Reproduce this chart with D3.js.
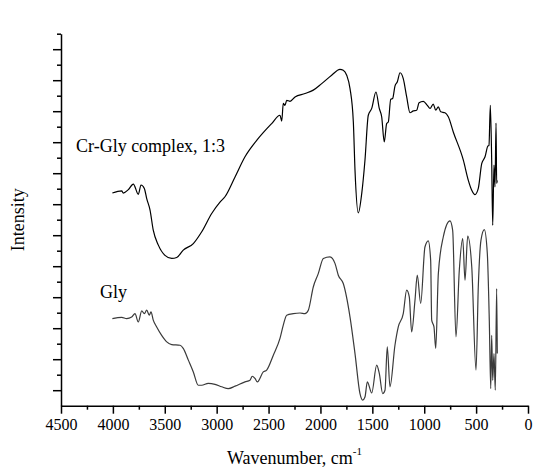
<!DOCTYPE html>
<html>
<head>
<meta charset="utf-8">
<script src="https://cdn.jsdelivr.net/npm/d3@7"></script>
<style>
	body { margin: 0; background: #fff; }
	svg { display: block; font-family: "Liberation Serif", "Times New Roman", serif; }
	.axis path, .axis line { stroke: #000; stroke-width: 1.5; }
</style>
</head>
<body>
<svg width="555" height="467"></svg>
<script>
// wavenumbers (cm-1) and intensities, arbitrary units
const crWn = [4005, 3915, 3900, 3851, 3803, 3755, 3729, 3697, 3674, 3642, 3611, 3562, 3498, 3433, 3385, 3322, 3225, 3144, 3048, 2968,
	2920, 2823, 2727, 2599, 2470, 2390, 2373, 2358, 2342, 2325, 2293, 2245, 2149, 2069, 1988, 1892, 1812, 1780, 1747, 1715,
	1683, 1667, 1635, 1602, 1571, 1539, 1506, 1465, 1433, 1410, 1385, 1362, 1346, 1323, 1304, 1282, 1259, 1233, 1202, 1169,
	1137, 1105, 1073, 1050, 1009, 970, 944, 913, 889, 864, 841, 800, 768, 720, 623, 575, 542, 511, 479, 446,
	414, 388, 376, 363, 350, 340, 328, 318, 308, 302, 296];
const crI = [6.36, 6.43, 6.36, 6.47, 6.65, 6.32, 6.62, 6.51, 6.18, 5.81, 5.16, 4.68, 4.35, 4.25, 4.28, 4.52, 4.73, 5.11, 5.70, 6.07,
	6.24, 6.88, 7.53, 8.12, 8.60, 8.87, 8.68, 9.25, 9.19, 9.35, 9.32, 9.46, 9.57, 9.68, 9.89, 10.16, 10.35, 10.32, 10.16, 9.73,
	8.65, 7.10, 5.72, 6.35, 7.42, 8.87, 9.09, 9.62, 9.09, 8.82, 8.01, 8.60, 8.65, 9.38, 9.41, 9.81, 9.95, 10.24, 10.05, 9.46,
	8.95, 9.01, 9.03, 9.27, 9.32, 9.19, 9.09, 9.23, 9.03, 9.14, 8.98, 8.95, 8.82, 8.33, 7.42, 6.77, 6.45, 6.31, 6.51, 7.31,
	7.53, 7.87, 7.90, 9.19, 7.42, 5.32, 7.26, 6.56, 8.62, 6.67, 6.77];

const glyWn = [4005, 3915, 3867, 3819, 3787, 3755, 3722, 3697, 3674, 3649, 3633, 3611, 3578, 3530, 3481, 3433, 3353, 3322, 3273, 3225,
	3177, 3144, 3081, 3016, 2951, 2888, 2823, 2727, 2679, 2657, 2631, 2608, 2551, 2518, 2454, 2390, 2358, 2325, 2262, 2197,
	2149, 2117, 2069, 2021, 1972, 1908, 1860, 1828, 1780, 1715, 1667, 1619, 1593, 1571, 1548, 1506, 1458, 1433, 1400, 1378,
	1356, 1330, 1282, 1250, 1202, 1169, 1144, 1121, 1089, 1067, 1034, 993, 961, 938, 928, 906, 889, 864, 816, 752,
	726, 694, 662, 629, 607, 581, 542, 501, 479, 453, 421, 392, 373, 359, 350, 340, 328, 315, 302, 296];
const glyI = [2.31, 2.35, 2.31, 2.36, 2.47, 2.20, 2.56, 2.47, 2.58, 2.42, 2.53, 2.26, 2.04, 1.77, 1.56, 1.47, 1.45, 1.35, 0.97, 0.59,
	0.16, 0.16, 0.22, 0.19, 0.11, 0.05, 0.13, 0.27, 0.32, 0.45, 0.38, 0.27, 0.59, 0.65, 1.13, 1.67, 2.10, 2.42, 2.47, 2.49,
	2.47, 2.58, 3.33, 3.76, 4.25, 4.30, 4.09, 3.71, 3.44, 2.36, 1.18, -0.11, -0.32, -0.22, 0.27, -0.09, 0.81, 0.54, -0.11, 0,
	1.40, 0.11, 1.45, 2.04, 2.47, 3.23, 3.01, 1.88, 2.90, 3.71, 2.80, 4.62, 4.82, 4.19, 2.26, 2.04, 1.35, 3.76, 4.95, 5.46,
	5.16, 1.72, 3.87, 4.89, 3.55, 4.97, 3.98, 0.65, 3.33, 4.84, 5.18, 4.41, 2.26, 0.05, 1.77, 0.32, 1.18, 0, 3.28, 1.18];

const xTickLabels = [4500, 4000, 3500, 3000, 2500, 2000, 1500, 1000, 500, 0];
const xMinorTicks = [4250, 3750, 3250, 2750, 2250, 1750, 1250, 750, 250];
const yMajorTicks = [0, 1, 2, 3, 4, 5, 6, 7, 8, 9, 10, 11];
const yMinorTicks = [0.5, 1.5, 2.5, 3.5, 4.5, 5.5, 6.5, 7.5, 8.5, 9.5, 10.5, 11.5];

const svg = d3.select("svg");

const x = d3.scaleLinear().domain([4500, 0]).range([61, 528]);
const y = d3.scaleLinear().domain([-0.5, 11.5]).range([405.7, 33.7]);

// axes: major + minor ticks, outward
svg.append("g")
	.attr("class", "axis")
	.attr("transform", `translate(0,${y(-0.5)})`)
	.call(d3.axisBottom(x).tickValues(xMinorTicks).tickSize(4).tickFormat(""))
	.call(g => g.select(".domain").remove());

const gX = svg.append("g")
	.attr("class", "axis")
	.attr("transform", `translate(0,${y(-0.5)})`)
	.call(d3.axisBottom(x).tickValues(xTickLabels).tickSize(8).tickSizeOuter(0).tickPadding(5).tickFormat(d3.format("d")));

gX.selectAll("text")
	.attr("font-size", 16)
	.attr("font-family", "Liberation Serif")
	.attr("fill", "#000");

svg.append("g")
	.attr("class", "axis")
	.attr("transform", `translate(${x(4500)},0)`)
	.call(d3.axisLeft(y).tickValues(yMinorTicks).tickSize(4).tickFormat(""))
	.call(g => g.select(".domain").remove());

svg.append("g")
	.attr("class", "axis")
	.attr("transform", `translate(${x(4500)},0)`)
	.call(d3.axisLeft(y).tickValues(yMajorTicks).tickSize(8).tickSizeOuter(0).tickFormat(""));

// spectra
const line = d3.line()
	.curve(d3.curveMonotoneX)
	.x(d => x(d[0]))
	.y(d => y(d[1]));

svg.append("path")
	.datum(d3.zip(glyWn, glyI))
	.attr("fill", "none")
	.attr("stroke", "#3a3a3a")
	.attr("stroke-width", 1.2)
	.attr("stroke-linejoin", "round")
	.attr("d", line);

svg.append("path")
	.datum(d3.zip(crWn, crI))
	.attr("fill", "none")
	.attr("stroke", "#000")
	.attr("stroke-width", 1.2)
	.attr("stroke-linejoin", "round")
	.attr("d", line);

// labels
svg.append("text")
	.attr("x", 76)
	.attr("y", 151.5)
	.attr("font-size", 18)
	.text("Cr-Gly complex, 1:3");

svg.append("text")
	.attr("x", 100)
	.attr("y", 298)
	.attr("font-size", 18)
	.text("Gly");

const xLabel = svg.append("text")
	.attr("x", x(2250))
	.attr("y", 464)
	.attr("text-anchor", "middle")
	.attr("font-size", 18);
xLabel.append("tspan").text("Wavenumber, cm");
xLabel.append("tspan")
	.attr("dy", -9)
	.attr("font-size", 11)
	.text("-1");

svg.append("text")
	.attr("transform", `translate(24,${y(5.5)}) rotate(-90)`)
	.attr("text-anchor", "middle")
	.attr("font-size", 18)
	.text("Intensity");
</script>
</body>
</html>
